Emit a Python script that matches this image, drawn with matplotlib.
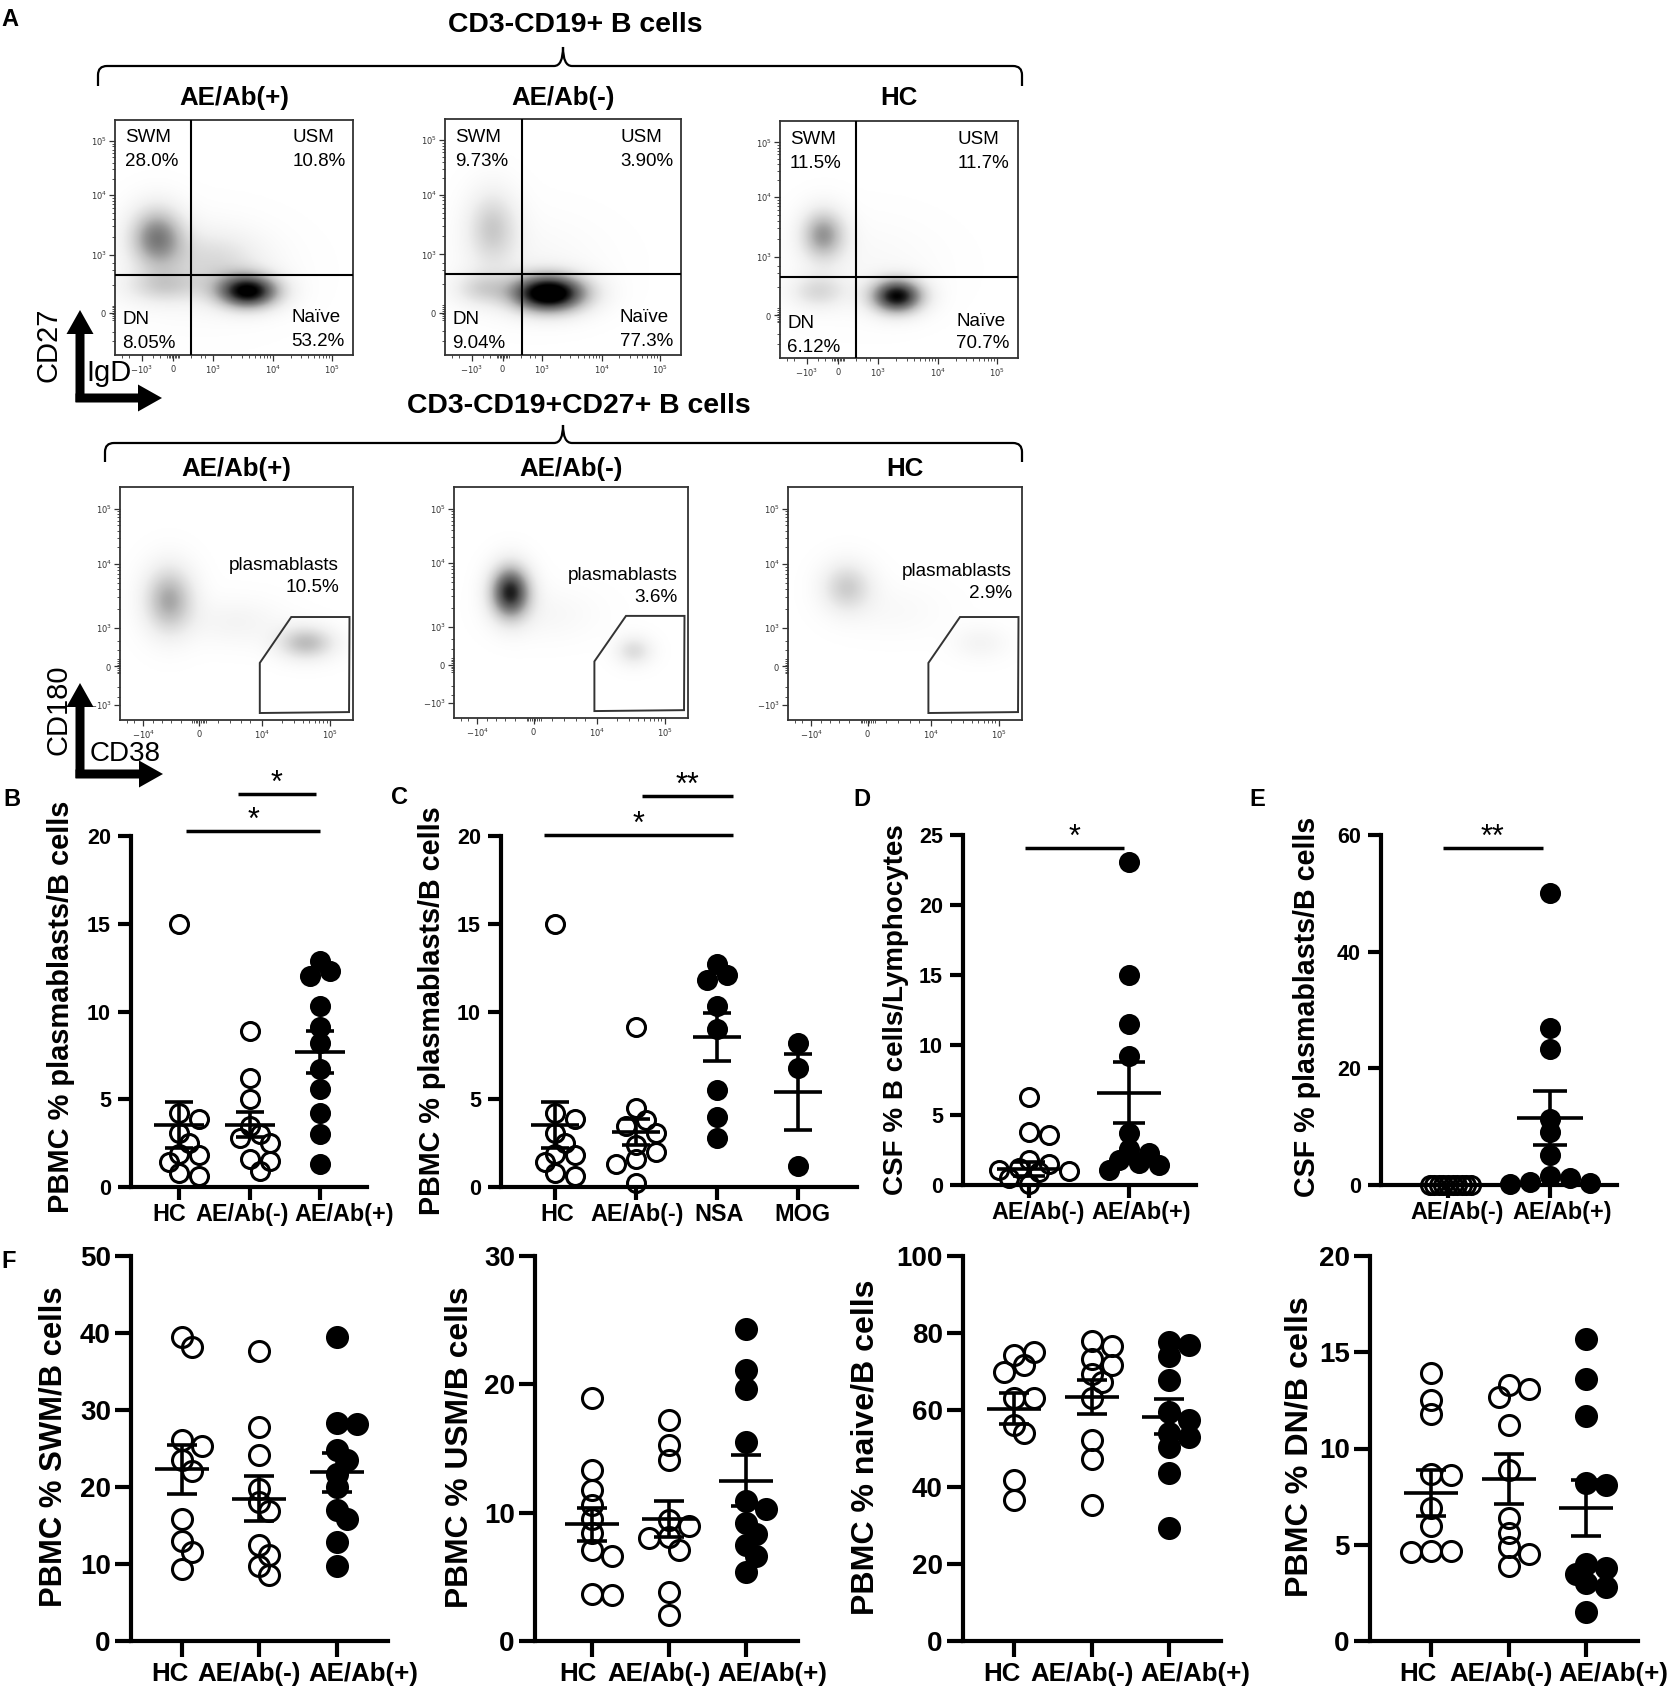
import numpy as np
import matplotlib
matplotlib.use('Agg')
import matplotlib.pyplot as plt
from matplotlib.path import Path
from matplotlib.patches import PathPatch, Polygon, FancyArrow
import matplotlib.transforms as mtransforms

plt.rcParams['font.family'] = ['Liberation Sans', 'DejaVu Sans']

# ------------------------------------------------------------------ data
flow_groups = ['AE/Ab(+)', 'AE/Ab(-)', 'HC']
swm_pct = ['28.0%', '9.73%', '11.5%']
usm_pct = ['10.8%', '3.90%', '11.7%']
dn_pct = ['8.05%', '9.04%', '6.12%']
naive_pct = ['53.2%', '77.3%', '70.7%']
pb_pct = ['10.5%', '3.6%', '2.9%']

# estimated event clouds: (x frac, y frac, sx, sy, relative density)
igd_cd27_clouds = [
    [(0.175, 0.50, 0.08, 0.09, 0.75), (0.56, 0.27, 0.09, 0.05, 1.35),
     (0.20, 0.29, 0.11, 0.05, 0.3), (0.42, 0.40, 0.14, 0.09, 0.25),
     (0.35, 0.35, 0.25, 0.15, 0.08)],
    [(0.20, 0.54, 0.075, 0.11, 0.4), (0.44, 0.26, 0.11, 0.055, 1.6),
     (0.15, 0.28, 0.08, 0.05, 0.3), (0.35, 0.38, 0.22, 0.14, 0.08)],
    [(0.18, 0.52, 0.065, 0.075, 0.65), (0.49, 0.26, 0.075, 0.05, 1.3),
     (0.16, 0.28, 0.08, 0.05, 0.3), (0.35, 0.38, 0.22, 0.14, 0.07)],
]
cd38_cd180_clouds = [
    [(0.21, 0.515, 0.075, 0.10, 0.6), (0.80, 0.33, 0.085, 0.05, 0.5),
     (0.50, 0.42, 0.14, 0.07, 0.12)],
    [(0.24, 0.545, 0.06, 0.08, 1.2), (0.77, 0.29, 0.055, 0.045, 0.3),
     (0.40, 0.45, 0.15, 0.08, 0.08)],
    [(0.25, 0.57, 0.075, 0.075, 0.4), (0.82, 0.33, 0.08, 0.05, 0.12),
     (0.45, 0.47, 0.15, 0.08, 0.06)],
]

groups3 = ['HC', 'AE/Ab(-)', 'AE/Ab(+)']
groups2 = ['AE/Ab(-)', 'AE/Ab(+)']
groups4 = ['HC', 'AE/Ab(-)', 'NSA', 'MOG']

# B: PBMC % plasmablasts / B cells
b_hc = [15.0, 4.2, 3.9, 3.1, 2.5, 1.9, 1.8, 1.4, 0.8, 0.6]
b_neg = [8.9, 6.2, 5.0, 3.5, 3.0, 2.8, 2.5, 1.6, 1.5, 0.9]
b_pos = [12.9, 12.3, 12.0, 10.3, 9.1, 8.2, 6.7, 5.6, 4.2, 3.0, 1.3]
b_mean = [3.55, 3.55, 7.7]
b_sem = [1.3, 0.7, 1.2]
# C: by antibody type
c_hc = [15.0, 4.2, 3.9, 3.1, 2.5, 1.9, 1.8, 1.4, 0.8, 0.6]
c_neg = [9.1, 4.5, 3.8, 3.5, 3.1, 2.4, 2.0, 1.6, 1.3, 0.2]
c_nsa = [12.7, 12.1, 11.8, 10.3, 9.0, 5.5, 4.0, 2.8]
c_mog = [8.2, 6.8, 1.2]
c_mean = [3.55, 3.15, 8.55, 5.4]
c_sem = [1.3, 0.75, 1.35, 2.15]
# D: CSF % B cells / lymphocytes
d_neg = [6.3, 3.8, 3.6, 1.8, 1.5, 1.2, 1.1, 1.0, 0.9, 0.5, 0.1]
d_pos = [23.1, 15.0, 11.5, 9.2, 3.7, 2.6, 2.3, 1.8, 1.6, 1.4, 1.1]
d_mean = [1.15, 6.6]
d_sem = [0.5, 2.2]
# E: CSF % plasmablasts / B cells
e_neg = [0, 0, 0, 0, 0, 0, 0, 0, 0, 0]
e_pos = [50.0, 27.0, 23.4, 11.4, 9.1, 5.1, 1.6, 1.2, 0.5, 0.3, 0.2]
e_mean = [0.0, 11.5]
e_sem = [0.0, 4.7]
# F: PBMC subsets / B cells
swm_hc = [39.5, 38.2, 26.1, 25.3, 23.5, 22.1, 15.9, 13.0, 11.6, 9.4]
swm_neg = [37.6, 27.8, 24.1, 19.8, 18.0, 16.9, 12.5, 11.2, 9.7, 8.6]
swm_pos = [39.5, 28.3, 28.2, 24.8, 23.5, 21.7, 20.0, 17.0, 15.9, 12.9, 9.7]
swm_mean = [22.3, 18.5, 21.9]
swm_sem = [3.2, 2.9, 2.5]
usm_hc = [18.9, 13.3, 11.8, 10.6, 9.5, 8.4, 7.1, 6.6, 3.7, 3.6]
usm_neg = [17.2, 15.3, 14.1, 9.4, 9.0, 8.1, 8.0, 7.1, 3.8, 2.0]
usm_pos = [24.3, 21.1, 19.6, 15.5, 10.9, 10.3, 9.2, 8.3, 7.5, 6.6, 5.4]
usm_mean = [9.1, 9.5, 12.5]
usm_sem = [1.3, 1.4, 2.0]
nai_hc = [74.3, 75.1, 71.7, 70.0, 63.1, 63.1, 56.2, 54.0, 41.7, 36.5]
nai_neg = [78.0, 76.5, 73.3, 71.7, 69.4, 67.2, 63.0, 52.1, 47.3, 35.2]
nai_pos = [77.7, 77.0, 73.9, 67.8, 59.6, 57.5, 54.0, 53.0, 50.5, 43.6, 29.3]
nai_mean = [60.3, 63.3, 58.3]
nai_sem = [4.0, 4.4, 4.6]
dn_hc = [13.9, 12.5, 11.8, 8.7, 8.6, 6.9, 6.0, 4.7, 4.7, 4.6]
dn_neg = [13.3, 13.1, 12.7, 11.2, 8.9, 6.4, 5.6, 4.9, 4.5, 3.9]
dn_pos = [15.7, 13.6, 11.7, 8.2, 8.1, 4.0, 3.8, 3.5, 3.0, 2.8, 1.5]
dn_mean = [7.7, 8.4, 6.9]
dn_sem = [1.2, 1.3, 1.45]

# ------------------------------------------------------------------ figure
W, H = 1680, 1704
fig = plt.figure(figsize=(W / 100, H / 100), dpi=100)
ov = fig.add_axes([0, 0, 1, 1], zorder=10)
ov.set_xlim(0, W)
ov.set_ylim(H, 0)
ov.axis('off')


def add_ax(box):
    l, t, r, b = box
    return fig.add_axes([l / W, 1 - b / H, (r - l) / W, (b - t) / H])


def brace(x0, x1, xm, y, yend, ytip):
    rr = 9
    verts = [(x0, yend), (x0, y + rr), (x0, y), (x0 + rr, y),
             (xm - rr, y), (xm, y), (xm, ytip),
             (xm, y), (xm + rr, y),
             (x1 - rr, y), (x1, y), (x1, y + rr), (x1, yend)]
    codes = [Path.MOVETO, Path.LINETO, Path.CURVE3, Path.CURVE3,
             Path.LINETO, Path.CURVE3, Path.CURVE3,
             Path.CURVE3, Path.CURVE3,
             Path.LINETO, Path.CURVE3, Path.CURVE3, Path.LINETO]
    ov.add_patch(PathPatch(Path(verts, codes), fill=False, lw=1.6, ec='black'))


def axis_arrows(x, ybot, ytop, xright, lab_v, lab_h, vpos, hpos, hsize):
    ov.add_patch(FancyArrow(x, ybot + 4, 0, ytop - ybot - 4, width=9, head_width=27,
                            head_length=24, length_includes_head=True, color='black', lw=0))
    ov.add_patch(FancyArrow(x - 4.5, ybot, xright - x + 4.5, 0, width=9, head_width=27,
                            head_length=24, length_includes_head=True, color='black', lw=0))
    ov.text(vpos[0], vpos[1], lab_v, rotation=90, ha='center', va='center', fontsize=21)
    ov.text(hpos[0], hpos[1], lab_h, ha='center', va='center', fontsize=hsize)


def density(clouds):
    g = np.linspace(0, 1, 300)
    X, Y = np.meshgrid(g, g)
    D = np.zeros_like(X)
    for cx, cy, sx, sy, w in clouds:
        D += w * np.exp(-((X - cx) ** 2 / (2 * sx ** 2) + (Y - cy) ** 2 / (2 * sy ** 2)))
    return D


def log_minor(major):
    out = []
    for a, b in zip(major[:-1], major[1:]):
        out += [a + (b - a) * np.log10(k) for k in range(2, 10)]
    return out


def flow_axes(box, clouds, yt, ylab, xt, xlab, yminor, xminor):
    ax = add_ax(box)
    ax.set_xlim(0, 1)
    ax.set_ylim(0, 1)
    ax.imshow(density(clouds), extent=(0, 1, 0, 1), origin='lower', cmap='Greys',
              vmin=0, vmax=1.35, interpolation='bilinear', aspect='auto', zorder=1)
    for sp in ax.spines.values():
        sp.set_linewidth(1.3)
        sp.set_color('#333333')
    ax.set_xticks(xt)
    ax.set_xticklabels(xlab)
    ax.set_yticks(yt)
    ax.set_yticklabels(ylab)
    ax.set_xticks(xminor, minor=True)
    ax.set_yticks(yminor, minor=True)
    ax.tick_params(which='major', length=4, width=0.9, color='#333333', labelsize=6,
                   labelcolor='#333333', pad=2)
    ax.tick_params(which='minor', length=2.2, width=0.6, color='#333333')
    return ax


# ------------------------------------------------------------------ panel A
ov.text(10, 20, 'A', fontsize=17, fontweight='bold', ha='center', va='center')
ov.text(575, 25, 'CD3-CD19+ B cells', fontsize=20.4, fontweight='bold', ha='center', va='center')
brace(98, 1022, 563, 66, 86, 47)
ov.text(579, 406, 'CD3-CD19+CD27+ B cells', fontsize=20.4, fontweight='bold',
        ha='center', va='center')
brace(105, 1022, 563, 443, 462, 425)

top_boxes = [(115, 120, 353, 355), (445, 119, 681, 355), (780, 121, 1018, 358)]
top_q = [(0.32, 0.34), (0.326, 0.342), (0.32, 0.34)]
top_title_y = 98
ty_pos = [0.18, 0.426, 0.68, 0.91]
ty_lab = [r'$0$', r'$10^3$', r'$10^4$', r'$10^5$']
tx_pos = [0.113, 0.245, 0.41, 0.665, 0.91]
tx_lab = [r'$-10^3$', r'$0$', r'$10^3$', r'$10^4$', r'$10^5$']
ty_minor = log_minor([0.426, 0.68, 0.91]) + list(np.linspace(0.15, 0.21, 9)) + [0.06, 0.10, 0.30, 0.36, 0.39]
tx_minor = log_minor([0.41, 0.665, 0.91]) + list(np.linspace(0.22, 0.27, 9)) + [0.03, 0.06, 0.16, 0.19, 0.32, 0.36, 0.38]

for i, box in enumerate(top_boxes):
    ax = flow_axes(box, igd_cd27_clouds[i], ty_pos, ty_lab, tx_pos, tx_lab, ty_minor, tx_minor)
    qx, qy = top_q[i]
    ax.axvline(qx, color='black', lw=1.5, zorder=3)
    ax.axhline(qy, color='black', lw=1.5, zorder=3)
    l, t, r, b = box
    w = r - l
    ov.text((l + r) / 2, top_title_y, flow_groups[i], fontsize=18.6, fontweight='bold',
            ha='center', va='center')
    ov.text(l + 0.042 * w, t + 18, 'SWM', fontsize=13.5, ha='left', va='center')
    ov.text(l + 0.042 * w, t + 42, swm_pct[i], fontsize=13.5, ha='left', va='center')
    ov.text(l + 0.745 * w, t + 18, 'USM', fontsize=13.5, ha='left', va='center')
    ov.text(l + 0.745 * w, t + 42, usm_pct[i], fontsize=13.5, ha='left', va='center')
    ov.text(l + 0.03 * w, b - 35, 'DN', fontsize=13.5, ha='left', va='center')
    ov.text(l + 0.03 * w, b - 11, dn_pct[i], fontsize=13.5, ha='left', va='center')
    ov.text(l + 0.74 * w, b - 37, 'Naïve', fontsize=13.5, ha='left', va='center')
    ov.text(l + 0.74 * w, b - 14, naive_pct[i], fontsize=13.5, ha='left', va='center')

bot_boxes = [(120, 487, 353, 720), (454, 487, 688, 718), (788, 487, 1022, 720)]
bot_title_y = 469
by_pos = [0.065, 0.23, 0.395, 0.67, 0.906]
by_lab = [r'$-10^3$', r'$0$', r'$10^3$', r'$10^4$', r'$10^5$']
bx_pos = [0.10, 0.34, 0.61, 0.90]
bx_lab = [r'$-10^4$', r'$0$', r'$10^4$', r'$10^5$']
by_minor = log_minor([0.395, 0.67, 0.906]) + list(np.linspace(0.20, 0.26, 9)) + [0.10, 0.14, 0.30, 0.34]
bx_minor = log_minor([0.61, 0.90]) + list(np.linspace(0.31, 0.37, 9)) + [0.03, 0.06, 0.14, 0.18, 0.22, 0.26, 0.42, 0.47, 0.52, 0.56]
gate = [(0.60, 0.245), (0.735, 0.442), (0.985, 0.442), (0.983, 0.034), (0.60, 0.03)]
pb_right = [0.94, 0.955, 0.957]
pb_dy = [78, 88, 84]

for i, box in enumerate(bot_boxes):
    ax = flow_axes(box, cd38_cd180_clouds[i], by_pos, by_lab, bx_pos, bx_lab, by_minor, bx_minor)
    ax.add_patch(Polygon(gate, closed=True, fill=False, lw=1.4, ec='#333333', zorder=3))
    l, t, r, b = box
    w = r - l
    ov.text((l + r) / 2, bot_title_y, flow_groups[i], fontsize=18.6, fontweight='bold',
            ha='center', va='center')
    ov.text(l + pb_right[i] * w, t + pb_dy[i], 'plasmablasts', fontsize=13.7,
            ha='right', va='center')
    ov.text(l + pb_right[i] * w, t + pb_dy[i] + 23, pb_pct[i], fontsize=13.7,
            ha='right', va='center')

axis_arrows(80, 398, 310, 162, 'CD27', 'IgD', (49, 345), (109, 373), 21)
axis_arrows(80, 774, 683, 163, 'CD180', 'CD38', (58, 710), (125, 754), 20)


# ------------------------------------------------------------------ dot plots
def swarm(values, ppy, step, mind):
    placed = []
    offs = []
    cands = [0] + [s * j for j in range(1, 30) for s in (1, -1)]
    for v in values:
        y = v * ppy
        xo = 0
        for c in cands:
            xo = c * step
            if all((xo - px) ** 2 + (y - py) ** 2 >= mind ** 2 for px, py in placed):
                break
        placed.append((xo, y))
        offs.append(xo)
    return np.array(offs)


def fit_label(x, y, s, length):
    t = ov.text(x, y, s, rotation=90, ha='center', va='center', fontsize=20, fontweight='bold')
    r = fig.canvas.get_renderer()
    h = t.get_window_extent(renderer=r).height
    t.set_fontsize(20 * length / h)
    return t


def dot_panel(box, xlim, ylim, yticks, groups, series, filled, means, sems, lab_dx,
              diam, mean_hw, cap_hw, ytick_fs, xtick_fs, tick_len, ypad, xlab_gap,
              step=10, mind=13, swarm_override=None, sig=()):
    ax = add_ax(box)
    l, t, r, b = box
    ax.set_xlim(*xlim)
    ax.set_ylim(*ylim)
    ax.patch.set_alpha(0)
    ppx = (r - l) / (xlim[1] - xlim[0])
    ppy = (b - t) / (ylim[1] - ylim[0])
    for sp in ('top', 'right'):
        ax.spines[sp].set_visible(False)
    for sp in ('left', 'bottom'):
        ax.spines[sp].set_linewidth(3)
        ax.spines[sp].set_capstyle('projecting')
    pos = np.arange(1, len(groups) + 1)
    ax.set_xticks(pos)
    ax.set_xticklabels([])
    ax.set_yticks(yticks)
    ax.set_yticklabels([str(v) for v in yticks], fontsize=ytick_fs, fontweight='bold')
    ax.tick_params(direction='out', length=tick_len, width=3, color='black')
    ax.tick_params(axis='y', pad=ypad)
    blend = mtransforms.blended_transform_factory(ax.transData, ax.transAxes)
    for p, g, dx in zip(pos, groups, lab_dx):
        tr = blend + mtransforms.ScaledTranslation(dx / 100, -(tick_len / 0.72 + xlab_gap) / 100,
                                                    fig.dpi_scale_trans)
        ax.text(p, 0, g, transform=tr, ha='center', va='top', fontsize=xtick_fs,
                fontweight='bold')
    ms = (diam - 3) * 0.72
    for gi, (vals, fill) in enumerate(zip(series, filled)):
        st, md = (step, mind)
        if swarm_override and gi in swarm_override:
            st, md = swarm_override[gi]
        offs = swarm(vals, ppy, st, md)
        ax.plot(pos[gi] + offs / ppx, vals, linestyle='none', marker='o', ms=ms,
                mfc='black' if fill else 'none', mec='black', mew=2.2, clip_on=False, zorder=3)
        m, s = means[gi], sems[gi]
        hw = mean_hw / ppx
        cw = cap_hw / ppx
        kw = dict(color='black', lw=2.6, solid_capstyle='butt', clip_on=False, zorder=4)
        ax.plot([pos[gi] - hw, pos[gi] + hw], [m, m], **kw)
        if s > 0:
            ax.plot([pos[gi], pos[gi]], [m - s, m + s], **kw)
            for yy in (m - s, m + s):
                ax.plot([pos[gi] - cw, pos[gi] + cw], [yy, yy], **kw)
    for x1, x2, yl, txt in sig:
        ax.plot([x1, x2], [yl, yl], color='black', lw=2.5, clip_on=False, solid_capstyle='butt')
        ax.annotate(txt, ((x1 + x2) / 2, yl), xytext=(0, 1.5), textcoords='offset points',
                    ha='center', va='baseline', fontsize=22, annotation_clip=False)
    return ax


small = dict(diam=21, ytick_fs=15.5, xtick_fs=16.8, tick_len=9.4, ypad=5, xlab_gap=3)
big = dict(diam=23, ytick_fs=20, xtick_fs=18.6, tick_len=11.5, ypad=3, xlab_gap=5)

# B
dot_panel((131, 836, 367, 1187), (0.314, 3.67), (0, 20), [0, 5, 10, 15, 20], groups3,
          [b_hc, b_neg, b_pos], [False, False, True], b_mean, b_sem, [-10, -7, 24],
          mean_hw=25, cap_hw=14, sig=[(1.1, 3.0, 20.3, '*'), (1.83, 2.94, 22.4, '*')], **small)
# C
dot_panel((501, 836, 857, 1187), (0.333, 4.73), (0, 20), [0, 5, 10, 15, 20], groups4,
          [c_hc, c_neg, c_nsa, c_mog], [False, False, True, True], c_mean, c_sem,
          [2, 1, 2, 5], mean_hw=24, cap_hw=14,
          sig=[(0.86, 3.2, 20.06, '*'), (2.08, 3.2, 22.3, '**')], **small)
# D
dot_panel((963, 835, 1196, 1185), (0.34, 2.67), (0, 25), [0, 5, 10, 15, 20, 25], groups2,
          [d_neg, d_pos], [False, True], d_mean, d_sem, [9, 12], mean_hw=32, cap_hw=16,
          sig=[(0.96, 1.95, 24.1, '*')], **small)
# E
dot_panel((1381, 835, 1617, 1185), (0.343, 2.66), (0, 60), [0, 20, 40, 60], groups2,
          [e_neg, e_pos], [False, True], e_mean, e_sem, [9, 12], mean_hw=33, cap_hw=17,
          swarm_override={0: (4.6, 4.4)}, sig=[(0.95, 1.93, 57.8, '**')], **small)
# F
dot_panel((131, 1256, 388, 1641), (0.342, 3.66), (0, 50), [0, 10, 20, 30, 40, 50], groups3,
          [swm_hc, swm_neg, swm_pos], [False, False, True], swm_mean, swm_sem,
          [-12, -10, 26], mean_hw=27, cap_hw=15, **big)
dot_panel((535, 1256, 798, 1641), (0.26, 3.68), (0, 30), [0, 10, 20, 30], groups3,
          [usm_hc, usm_neg, usm_pos], [False, False, True], usm_mean, usm_sem,
          [-14, -10, 27], mean_hw=27, cap_hw=15, **big)
dot_panel((963, 1256, 1221, 1641), (0.34, 3.67), (0, 100), [0, 20, 40, 60, 80, 100], groups3,
          [nai_hc, nai_neg, nai_pos], [False, False, True], nai_mean, nai_sem,
          [-12, -10, 26], mean_hw=27, cap_hw=15, **big)
dot_panel((1370, 1256, 1638, 1641), (0.21, 3.67), (0, 20), [0, 5, 10, 15, 20], groups3,
          [dn_hc, dn_neg, dn_pos], [False, False, True], dn_mean, dn_sem,
          [-13, -8, 27], mean_hw=27, cap_hw=15, **big)

# panel letters
for s, x, y in [('B', 12, 799), ('C', 399, 797), ('D', 862, 800), ('E', 1257, 799), ('F', 9, 1262)]:
    ov.text(x, y, s, fontsize=17, fontweight='bold', ha='center', va='center')

# y-axis titles
fit_label(61, 1007, 'PBMC % plasmablasts/B cells', 412)
fit_label(432, 1011, 'PBMC % plasmablasts/B cells', 408)
fit_label(896, 1010, 'CSF % B cells/Lymphocytes', 370)
fit_label(1307, 1007, 'CSF % plasmablasts/B cells', 380)
fit_label(54, 1447, 'PBMC % SWM/B cells', 321)
fit_label(459, 1447, 'PBMC % USM/B cells', 321)
fit_label(865, 1447, 'PBMC % naive/B cells', 335)
fit_label(1299, 1447, 'PBMC % DN/B cells', 301)

fig.savefig('out.png', dpi=100)
